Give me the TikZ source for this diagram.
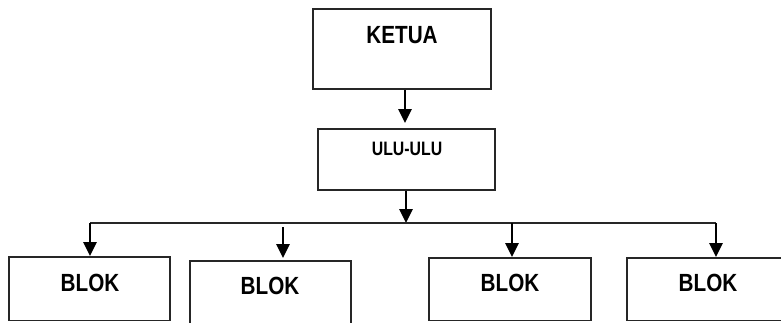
\documentclass[tikz,border=0pt]{standalone}
\usepackage{fontspec}
\setmainfont{Liberation Sans}
\usetikzlibrary{arrows.meta}
\newcommand{\condensed}[2]{\scalebox{#1}[1.08]{#2}}
\begin{document}
\begin{tikzpicture}[x=1pt,y=-1pt,
  box/.style={draw=black!85, line width=1.8pt, inner sep=0pt},
  lbl/.style={inner sep=0pt, font=\bfseries\fontsize{23}{26}\selectfont},
  arr/.style={line width=2.8pt, -{Triangle[length=14pt,width=13pt]}},
  bus/.style={line width=1.8pt, draw=black!85}]
\useasboundingbox (0,0) rectangle (781,322);
\clip (0,0) rectangle (781,322);
% boxes
\node[box, minimum width=178pt, minimum height=80pt] (ketua) at (402,49) {};
\node[box, minimum width=177pt, minimum height=61pt] (ulu) at (406.5,159.5) {};
\node[box, minimum width=161pt, minimum height=63.5pt] (b1) at (89.5,288.75) {};
\node[box, minimum width=161pt, minimum height=80pt] (b2) at (270.5,301) {};
\node[box, minimum width=162pt, minimum height=62.5pt] (b3) at (510,289.25) {};
\node[box, minimum width=170pt, minimum height=62.5pt] (b4) at (712,289.25) {};
% texts
\node[lbl] (tketua) at (402,35) {\condensed{0.9}{KETUA}};
\node[lbl, font=\bfseries\fontsize{18}{20}\selectfont] (tulu) at (407,149) {\condensed{0.88}{ULU-ULU}};
\node[lbl] (tb1) at (90,283) {\condensed{0.9}{BLOK}};
\node[lbl] (tb2) at (270,286) {\condensed{0.9}{BLOK}};
\node[lbl] (tb3) at (510,283) {\condensed{0.9}{BLOK}};
\node[lbl] (tb4) at (708,283) {\condensed{0.9}{BLOK}};
% connectors
\coordinate (bus) at (406,223);
\coordinate (j1) at (90,223);
\coordinate (j2) at (283,227);
\coordinate (j3) at (512,223);
\coordinate (j4) at (716,223);
\draw[arr, shorten >=5pt] (ketua.south -| 405,0) -- (ulu.north -| 405,0);
\draw[arr] (ulu.south -| bus) -- (bus);
\draw[bus] (j1) -- (j4);
\draw[arr] (j1) -- (j1 |- b1.north);
\draw[arr, shorten >=2pt] (j2) -- (j2 |- b2.north);
\draw[arr] (j3) -- (j3 |- b3.north);
\draw[arr] (j4) -- (j4 |- b4.north);
\end{tikzpicture}
\end{document}
